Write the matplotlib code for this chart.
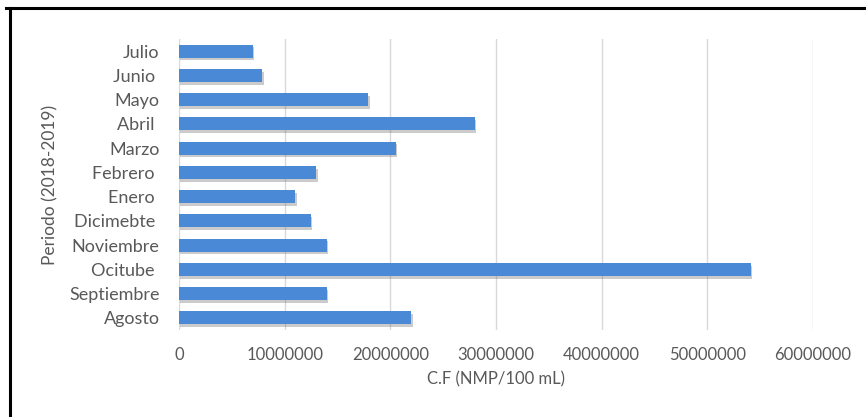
import matplotlib
matplotlib.use("Agg")
import matplotlib.pyplot as plt
import matplotlib.patheffects as pe
from matplotlib.lines import Line2D

# meses (de abajo hacia arriba) y valores de C.F
meses = ["Agosto", "Septiembre", "Ocitube ", "Noviembre", "Dicimebte ", "Enero ",
         "Febrero ", "Marzo", "Abril ", "Mayo", "Junio ", "Julio"]
valores = [22000000, 14000000, 54100000, 14000000, 12500000, 11000000,
           13000000, 20500000, 28000000, 17900000, 7900000, 7000000]
ticks_x = [0, 10000000, 20000000, 30000000, 40000000, 50000000, 60000000]

plt.rcParams['font.family'] = ['Lato', 'DejaVu Sans']

fig = plt.figure(figsize=(8.66, 4.17), dpi=100)
ax = fig.add_axes([0.2067, 0.2086, 0.7321, 0.6979])

bars = ax.barh(range(len(meses)), valores, height=0.53, color="#4A89D6", zorder=3)
for b in bars:
    b.set_path_effects([pe.SimplePatchShadow(offset=(1, -2), alpha=0.3, shadow_rgbFace="#555555"),
                        pe.Normal()])

ax.set_xlim(0, 60000000)
ax.set_ylim(-0.5, len(meses) - 0.5)
ax.set_xticks(ticks_x)
ax.set_xticklabels([str(t) for t in ticks_x])
ax.set_yticks(range(len(meses)))
ax.set_yticklabels(meses)
ax.grid(axis="x", color="#d9d9d9", linewidth=1, zorder=0)
for s in ax.spines.values():
    s.set_visible(False)
ax.tick_params(length=0, colors="#595959")
ax.tick_params(axis="x", pad=12, labelsize=12)
ax.tick_params(axis="y", pad=14, labelsize=13)

ax.set_xlabel("C.F (NMP/100 mL)", fontsize=12, color="#595959", labelpad=6)
ax.set_ylabel("Periodo (2018-2019)", fontsize=12.5, color="#595959", labelpad=8)

# marco superior e izquierdo
fig.add_artist(Line2D([6 / 866, 1], [0.982, 0.982], color="black", linewidth=2.2))
fig.add_artist(Line2D([10 / 866, 10 / 866], [0, 0.982], color="black", linewidth=2.2))

plt.savefig("out.png", dpi=100)
